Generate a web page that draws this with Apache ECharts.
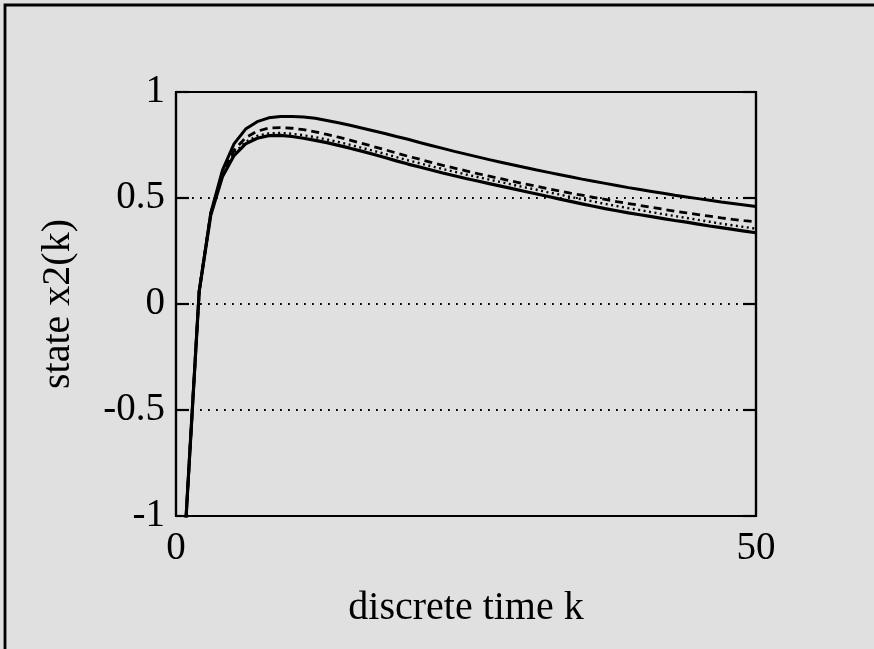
<!DOCTYPE html>
<html>
<head>
<meta charset="utf-8">
<script src="https://cdn.jsdelivr.net/npm/echarts@6/dist/echarts.min.js"></script>
<style>
html,body{margin:0;padding:0;background:#e0e0e0;}
#chart{width:874px;height:649px;}
</style>
</head>
<body>
<div id="chart"></div>
<script>
// discrete time k = 0..50
const kValues = Array.from({length: 51}, (_, i) => i);

// upper solid curve
const solidUpper = [-1.85, -0.88, 0.06, 0.43, 0.63, 0.755, 0.825, 0.86, 0.878, 0.884,
  0.884, 0.882, 0.876, 0.866, 0.855, 0.843, 0.830, 0.817, 0.804, 0.790,
  0.777, 0.762, 0.748, 0.734, 0.720, 0.707, 0.694, 0.681, 0.669, 0.657,
  0.645, 0.633, 0.622, 0.611, 0.600, 0.589, 0.579, 0.569, 0.559, 0.549,
  0.540, 0.531, 0.522, 0.513, 0.505, 0.497, 0.489, 0.481, 0.474, 0.467, 0.460];

// dashed curve
const dashedCurve = [-1.85, -0.88, 0.06, 0.43, 0.615, 0.725, 0.785, 0.815, 0.83, 0.832,
  0.829, 0.822, 0.812, 0.80, 0.787, 0.773, 0.758, 0.743, 0.728, 0.712,
  0.697, 0.683, 0.668, 0.654, 0.641, 0.628, 0.615, 0.603, 0.591, 0.579,
  0.567, 0.556, 0.545, 0.534, 0.523, 0.513, 0.503, 0.493, 0.483, 0.474,
  0.465, 0.456, 0.447, 0.438, 0.430, 0.422, 0.414, 0.406, 0.399, 0.393, 0.388];

// dotted curve
const dottedCurve = [-1.85, -0.88, 0.06, 0.42, 0.605, 0.71, 0.765, 0.793, 0.805, 0.807,
  0.803, 0.796, 0.787, 0.776, 0.764, 0.751, 0.737, 0.723, 0.708, 0.693,
  0.678, 0.664, 0.650, 0.637, 0.624, 0.611, 0.599, 0.587, 0.575, 0.563,
  0.551, 0.540, 0.528, 0.517, 0.505, 0.494, 0.483, 0.472, 0.462, 0.452,
  0.443, 0.433, 0.424, 0.415, 0.406, 0.397, 0.388, 0.379, 0.371, 0.363, 0.355];

// lower solid curve
const solidLower = [-1.85, -0.88, 0.06, 0.42, 0.60, 0.70, 0.755, 0.782, 0.794, 0.795,
  0.79, 0.782, 0.772, 0.761, 0.748, 0.735, 0.721, 0.706, 0.691, 0.675,
  0.66, 0.646, 0.632, 0.618, 0.605, 0.592, 0.580, 0.568, 0.556, 0.544,
  0.532, 0.520, 0.508, 0.496, 0.484, 0.472, 0.461, 0.450, 0.440, 0.430,
  0.421, 0.412, 0.403, 0.394, 0.386, 0.377, 0.368, 0.360, 0.352, 0.344, 0.336];

const xTickLabels = ['0', '50'];
const yTickLabels = ['-1', '-0.5', '0', '0.5', '1'];

const font = "'Liberation Serif', 'Times New Roman', serif";
const pair = arr => kValues.map((k, i) => [k, arr[i]]);

const chart = echarts.init(document.getElementById('chart'), null, {renderer: 'canvas'});

function lineSeries(name, data, type, width) {
  return {
    name: name, type: 'line', data: pair(data),
    showSymbol: false, smooth: false, clip: true,
    lineStyle: {color: '#000', width: width, type: type},
    z: 3
  };
}

chart.setOption({
  backgroundColor: '#e0e0e0',
  animation: false,
  grid: {
    left: 176, right: 118, top: 92, bottom: 133,
    show: true, borderColor: '#000', borderWidth: 2.2, backgroundColor: 'transparent'
  },
  xAxis: {
    type: 'value', min: 0, max: 50, interval: 50,
    name: 'discrete time k', nameLocation: 'middle', nameGap: 72,
    nameTextStyle: {fontFamily: font, fontSize: 40, color: '#000'},
    axisLine: {show: true, onZero: false, lineStyle: {color: '#000', width: 2.2}},
    axisTick: {show: false},
    splitLine: {show: false},
    axisLabel: {
      fontFamily: font, fontSize: 39, color: '#000', margin: 13,
      formatter: v => xTickLabels[Math.round(v / 50)]
    }
  },
  yAxis: [{
    type: 'value', min: -1, max: 1, interval: 0.5,
    name: 'state x2(k)', nameLocation: 'middle', nameGap: 98, nameRotate: 90,
    nameTextStyle: {fontFamily: font, fontSize: 40, color: '#000'},
    axisLine: {show: true, onZero: false, lineStyle: {color: '#000', width: 2.2}},
    axisTick: {show: true, inside: true, length: 13, lineStyle: {color: '#000', width: 2.2}},
    splitLine: {show: true, lineStyle: {color: '#000', width: 1.8, type: [1.8, 6.2]}},
    axisLabel: {
      fontFamily: font, fontSize: 39, color: '#000', margin: 11,
      formatter: v => yTickLabels[Math.round((v + 1) / 0.5)]
    }
  }, {
    type: 'value', min: -1, max: 1, interval: 0.5, position: 'right',
    axisLine: {show: true, onZero: false, lineStyle: {color: '#000', width: 2.2}},
    axisTick: {show: true, inside: true, length: 13, lineStyle: {color: '#000', width: 2.2}},
    splitLine: {show: false},
    axisLabel: {show: false}
  }],
  series: [
    lineSeries('upper', solidUpper, 'solid', 3),
    lineSeries('dashed', dashedCurve, [8, 5], 2.8),
    lineSeries('dotted', dottedCurve, [2, 3.5], 2.4),
    lineSeries('lower', solidLower, 'solid', 3.2)
  ],
  graphic: [{
    type: 'polyline',
    shape: {points: [[5, 649], [5, 5], [874, 5]]},
    style: {stroke: '#000', lineWidth: 2.8, fill: null},
    silent: true
  }]
});
</script>
</body>
</html>
